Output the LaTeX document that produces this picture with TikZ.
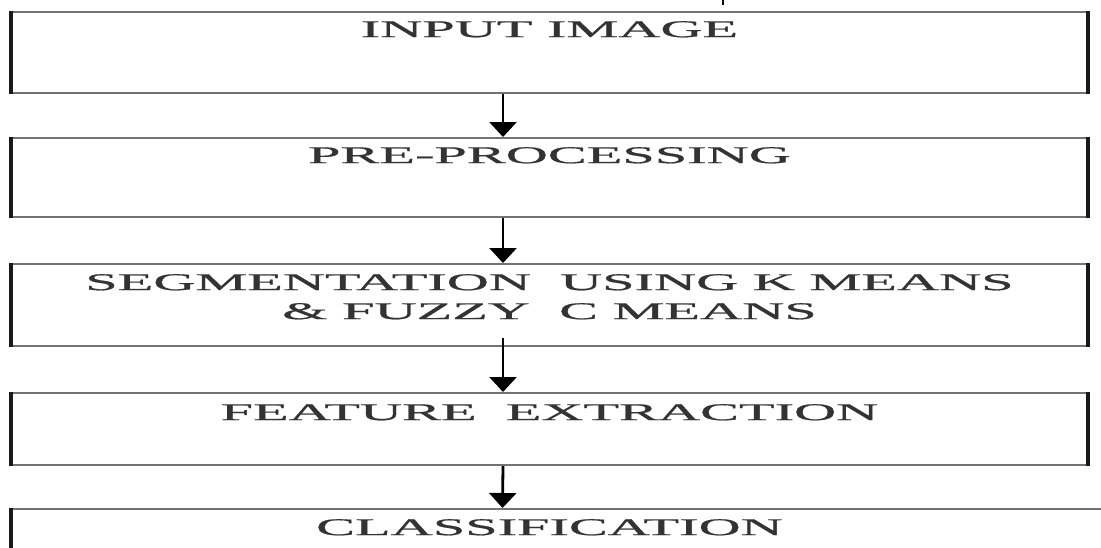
\documentclass[tikz,border=0pt]{standalone}
\usepackage{fontspec}
\setmainfont{Liberation Serif}
\newfontfamily\stagefont{Liberation Serif}[FakeBold=0.6]
\usetikzlibrary{positioning,arrows.meta}

\newcommand{\widen}[1]{\scalebox{2.43}[1]{#1}}

\tikzset{
  side/.style={draw=black!90, line width=3.2pt},
  stage/.style={draw=black!55, line width=2pt, minimum width=1075pt, inner sep=0pt,
    append after command={(\tikzlastnode.north west) edge[side] (\tikzlastnode.south west)
      (\tikzlastnode.north east) edge[side] (\tikzlastnode.south east)}},
  stagetext/.style={inner sep=0pt, text=black!80, font=\stagefont\fontsize{24}{29}\selectfont, align=center},
  flow/.style={draw=black, line width=2.8pt, -{Triangle[width=27pt,length=15pt]}}
}

\begin{document}
\begin{tikzpicture}[x=1pt,y=-1pt]
\useasboundingbox (0,0) rectangle (1101,547);
\clip (0,0) rectangle (1101,547);

%Shape: Rectangle
\node[stage, minimum height=81pt] (input) at (549.5,52.5) {};
\node[stage, minimum height=79pt] (prep) at (549.5,177.5) {};
\node[stage, minimum height=82pt] (seg) at (549.5,305) {};
\node[stage, minimum height=72pt] (feat) at (549.5,429) {};
\node[stage, minimum width=1098pt, minimum height=91pt] (class) at (561,554.5) {};

% Text Node
\node[stagetext, below=10pt of input.north] (inputtext) {\widen{INPUT IMAGE}};
\node[stagetext, below=10pt of prep.north] (preptext) {\widen{PRE-PROCESSING}};
\node[stagetext, below=11pt of seg.north] (segtext) {\widen{SEGMENTATION\ \ USING K MEANS}\\ \widen{\&\ FUZZY\ \ C MEANS}};
\node[stagetext, below=12pt of feat.north] (feattext) {\widen{FEATURE\ \ EXTRACTION}};
\node[stagetext, below=11pt of input.north |- class.north] (classtext) {\widen{CLASSIFICATION}};

%Straight Lines
\draw[flow] ([xshift=-46.5pt]input.south) -- ([xshift=-46.5pt]prep.north);
\draw[flow] ([xshift=-46.5pt]prep.south) -- ([xshift=-46.5pt]seg.north);
\draw[flow] ([xshift=-46.5pt,yshift=9pt]seg.south) -- ([xshift=-46.5pt]feat.north);
\draw[flow] ([xshift=-46.5pt]feat.south) -- ([xshift=-58.5pt]class.north);

%Straight Lines (cut mark at top)
\draw[line width=1.5pt] (723,0) -- (723,5);

\end{tikzpicture}
\end{document}
